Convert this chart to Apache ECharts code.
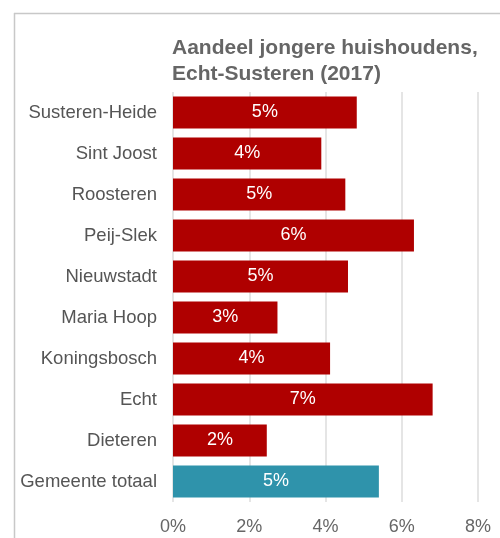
<!DOCTYPE html>
<html><head><meta charset="utf-8">
<script src="https://cdn.jsdelivr.net/npm/echarts@6/dist/echarts.min.js"></script>
<style>html,body{margin:0;padding:0;background:#fff}#c{width:500px;height:538px}</style>
</head><body><div id="c"></div>
<script>
const categories = ["Susteren-Heide","Sint Joost","Roosteren","Peij-Slek","Nieuwstadt","Maria Hoop","Koningsbosch","Echt","Dieteren","Gemeente totaal"];
const values = [4.82, 3.89, 4.52, 6.32, 4.59, 2.74, 4.12, 6.81, 2.46, 5.40];
const isTotal = [false,false,false,false,false,false,false,false,false,true];
const xTicks = [0, 2, 4, 6, 8];
const titleText = "Aandeel jongere huishoudens,\nEcht-Susteren (2017)";

const chart = echarts.init(document.getElementById('c'), null, {renderer:'canvas'});
chart.setOption({
  animation:false,
  title:{text:titleText,left:167,top:30,textStyle:{fontFamily:'Liberation Sans, Arial',fontSize:21,fontWeight:'bold',color:'#666',lineHeight:26}},
  graphic:[
    {type:'line',shape:{x1:14,y1:13.5,x2:500,y2:13.5},style:{stroke:'#c8c8c8',lineWidth:1.5}},
    {type:'line',shape:{x1:14.5,y1:13,x2:14.5,y2:538},style:{stroke:'#c8c8c8',lineWidth:1.5}}
  ],
  grid:{left:173,right:22,top:92,bottom:36,containLabel:false},
  xAxis:{type:'value',min:xTicks[0],max:xTicks[xTicks.length-1],interval:2,
    axisLine:{show:false},axisTick:{show:false},
    splitLine:{show:true,lineStyle:{color:'#dcdcdc',width:1.5}},
    axisLabel:{formatter:v=>v+'%',fontFamily:'Liberation Sans, Arial',fontSize:18,color:'#666',margin:16}},
  yAxis:{type:'category',data:categories,inverse:true,
    axisLine:{show:false},axisTick:{show:false},
    axisLabel:{fontFamily:'Liberation Sans, Arial',fontSize:18.5,color:'#555',margin:16}},
  series:[{type:'bar',barCategoryGap:'22%',
    data:values.map((v,i)=>({value:v,itemStyle:{color:isTotal[i]?'#2F93AB':'#AF0000'}})),
    label:{show:true,position:'inside',formatter:p=>Math.round(p.value)+'%',color:'#fff',fontFamily:'Liberation Sans, Arial',fontSize:18}
  }]
});
</script></body></html>
